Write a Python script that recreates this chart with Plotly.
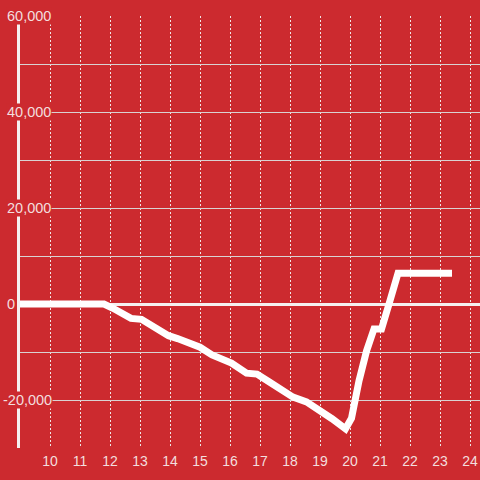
import plotly.graph_objects as go

# time of day (hours) and cumulative value
hours = [9, 11.8, 12.1, 12.4, 12.7, 13.05, 13.4, 13.7, 13.95, 14.25, 14.75, 15.0, 15.4,
         16.05, 16.55, 16.9, 17.3, 17.7, 18.1, 18.55, 19.0, 19.4, 19.85, 20.05, 20.3,
         20.55, 20.8, 21.05, 21.3, 21.6, 23.4]
values = [0, 0, -900, -2000, -3000, -3200, -4600, -5900, -6600, -7200, -8600, -9000, -10600,
          -12300, -14400, -14600, -16200, -17900, -19400, -20400, -22100, -23900, -26000, -23800, -16000,
          -9800, -5200, -5200, 0, 6400, 6400]

x_ticks = list(range(10, 25))
y_label_vals = [60000, 40000, 20000, 0, -20000]
y_label_text = ["60,000", "40,000", "20,000", "0", "-20,000"]

BG = "#cc2a2f"
TXT = "#f3dede"
W, H = 480, 480
L, R, T, B = 20, 0, 16, 32

fig = go.Figure()
fig.add_trace(go.Scatter(x=hours, y=values, mode="lines",
                         line=dict(color="#ffffff", width=7), hoverinfo="skip"))

annotations = []
for v, t in zip(y_label_vals, y_label_text):
    annotations.append(dict(
        xref="paper", yref="y", x=(6 - L) / (W - L - R), y=v,
        xanchor="left", yanchor="middle", xshift=(-4 if v < 0 else 0),
        text=t, showarrow=False, bgcolor=BG, borderpad=0,
        font=dict(family="Liberation Sans, Arial", size=14.5, color=TXT)))

fig.update_layout(
    width=W, height=H,
    margin=dict(l=L, r=R, t=T, b=B, pad=0, autoexpand=False),
    paper_bgcolor=BG, plot_bgcolor=BG,
    showlegend=False,
    font=dict(family="Liberation Sans, Arial", size=14, color=TXT),
    annotations=annotations,
    xaxis=dict(range=[9, 24.333], tickvals=x_ticks, ticktext=[str(v) for v in x_ticks],
               showgrid=True, gridcolor="#f0e6e6", gridwidth=1, griddash="2px,2px",
               zeroline=False, showline=False, ticks="", ticklabelstandoff=3,
               tickfont=dict(size=14, color=TXT), automargin=False),
    yaxis=dict(range=[-30000, 60000], dtick=10000, tick0=0, showticklabels=False,
               showgrid=True, gridcolor="#d9d2d2", gridwidth=1,
               zeroline=True, zerolinecolor="#f5f0f0", zerolinewidth=3,
               showline=True, linecolor="#f5f0f0", linewidth=3, ticks="", automargin=False),
)

post = ("document.body.style.margin='0';document.body.style.overflow='hidden';"
        "document.body.style.background='" + BG + "';"
        "var gd=document.getElementById('{plot_id}');Plotly.Plots.resize(gd);")

fig.write_html("out.html", post_script=post, config={"displayModeBar": False})
